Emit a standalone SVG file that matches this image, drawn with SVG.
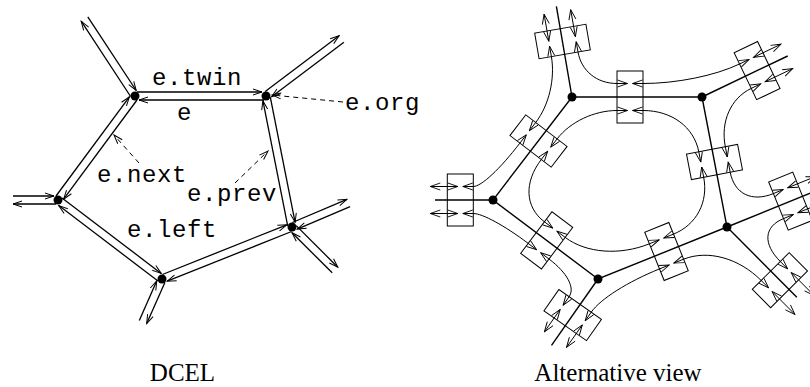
<svg xmlns="http://www.w3.org/2000/svg" width="810" height="387" viewBox="0 0 810 387">
<defs>
<style>
.he{fill:none;stroke:#000;stroke-width:1.3;marker-end:url(#al)}
.ld{fill:none;stroke:#000;stroke-width:1;stroke-dasharray:5 4;marker-end:url(#al)}
.mono{font-family:"Liberation Mono","DejaVu Sans Mono",monospace;font-size:24px;letter-spacing:0.6px;fill:#000}
.cap{font-family:"Liberation Serif","Times New Roman",serif;font-size:25px;fill:#000;text-anchor:middle}
.edge{fill:none;stroke:#000;stroke-width:1.4}
.box{fill:none;stroke:#000;stroke-width:1}
.cv{fill:none;stroke:#000;stroke-width:1;marker-start:url(#ar);marker-end:url(#ar)}
.v{fill:#000}
</style>
<marker id="al" viewBox="-11 -5 12 10" refX="0" refY="0" markerWidth="12" markerHeight="10" markerUnits="userSpaceOnUse" orient="auto-start-reverse">
<path d="M-9,-3 L0,0 L-9,3" fill="none" stroke="#000" stroke-width="1"/>
</marker>
<marker id="ar" viewBox="-12 -5 13 10" refX="0" refY="0" markerWidth="13" markerHeight="10" markerUnits="userSpaceOnUse" orient="auto-start-reverse">
<path d="M-10,-3.5 L0,0 L-10,3.5" fill="none" stroke="#000" stroke-width="0.9"/>
</marker>
</defs>

<!-- DCEL: half-edge pairs -->
<g id="dcel-halfedges">
<path class="he" d="M137,92 L262,92"/>
<path class="he" d="M264,100 L139,100"/>
<path class="he" d="M270.3,97.2 L295.1,222.3"/>
<path class="he" d="M287.7,225.8 L262.9,100.7"/>
<path class="he" d="M291.6,231.5 L167.2,281.2"/>
<path class="he" d="M162.4,274.5 L286.8,224.8"/>
<path class="he" d="M158,281 L58.8,205.6"/>
<path class="he" d="M62,198 L161.2,273.4"/>
<path class="he" d="M56,196 L129.4,96.8"/>
<path class="he" d="M137,100 L63.6,199.2"/>
<path class="he" d="M130.6,96.5 L81.2,21.2"/>
<path class="he" d="M87.8,16.8 L136.2,90.5"/>
<path class="he" d="M265.2,91.6 L339.1,35.8"/>
<path class="he" d="M343.9,42.2 L271.6,96.8"/>
<path class="he" d="M292.3,222.5 L346.9,199.3"/>
<path class="he" d="M350.1,206.7 L297.2,229.1"/>
<path class="he" d="M296.2,225.6 L337.8,267.2"/>
<path class="he" d="M332.2,272.8 L292,232.7"/>
<path class="he" d="M164.9,282.5 L146.7,323.6"/>
<path class="he" d="M139.3,320.4 L156.7,281"/>
<path class="he" d="M56,204 L13,204"/>
<path class="he" d="M13,196 L54,196"/>
</g>

<g id="dcel-leaders">
<path class="ld" d="M343,102 L272,95"/>
<path class="ld" d="M139,163 L114,135"/>
<path class="ld" d="M235,183 L268,151"/>
</g>

<g id="dcel-vertex-a"><circle class="v" cx="135" cy="96" r="4.5"/></g>
<g id="dcel-vertex-b"><circle class="v" cx="266" cy="96" r="4.5"/></g>
<g id="dcel-vertex-c"><circle class="v" cx="292" cy="227" r="4.5"/></g>
<g id="dcel-vertex-d"><circle class="v" cx="162" cy="279" r="4.5"/></g>
<g id="dcel-vertex-e"><circle class="v" cx="58" cy="200" r="4.5"/></g>

<g id="dcel-labels">
<text class="mono" x="152" y="85">e.twin</text>
<text class="mono" x="177" y="120">e</text>
<text class="mono" x="345" y="110">e.org</text>
<text class="mono" x="97" y="182">e.next</text>
<text class="mono" x="187" y="201">e.prev</text>
<text class="mono" x="127" y="237">e.left</text>
<text class="cap" x="182.5" y="381">DCEL</text>
</g>

<!-- Alternative view: edge skeleton -->
<g id="alt-edges">
<path class="edge" d="M572,97 L702,97 L727,227 L598,279 L493,200 Z"/>
<path class="edge" d="M572,97 L556.4,6.4"/>
<path class="edge" d="M702,97 L787.7,56"/>
<path class="edge" d="M727,227 L819.6,189.4"/>
<path class="edge" d="M727,227 L796.8,297.2"/>
<path class="edge" d="M598,279 L551.5,345.3"/>
<path class="edge" d="M493,200 L435,200"/>
</g>

<!-- edge records -->
<g id="box-12"><rect class="box" x="-13" y="-26" width="26" height="52" transform="translate(630,97)"/></g>
<g id="box-23"><rect class="box" x="-13" y="-26" width="26" height="52" transform="translate(714.5,162) rotate(79.12)"/></g>
<g id="box-34"><rect class="box" x="-13" y="-26" width="26" height="52" transform="translate(666.5,251.5) rotate(158.05)"/></g>
<g id="box-45"><rect class="box" x="-13" y="-26" width="26" height="52" transform="translate(546.7,240.4) rotate(-143.04)"/></g>
<g id="box-51"><rect class="box" x="-13" y="-26" width="26" height="52" transform="translate(538.5,141) rotate(-52.51)"/></g>
<g id="box-1"><rect class="box" x="-13" y="-26" width="26" height="52" transform="translate(562.5,41.5) rotate(-99.79)"/></g>
<g id="box-2"><rect class="box" x="-13" y="-26" width="26" height="52" transform="translate(757.1,70.6) rotate(-25.59)"/></g>
<g id="box-3a"><rect class="box" x="-13" y="-26" width="26" height="52" transform="translate(790.5,201.2) rotate(-22.1)"/></g>
<g id="box-3b"><rect class="box" x="-13" y="-26" width="26" height="52" transform="translate(779.9,280.2) rotate(45.16)"/></g>
<g id="box-4"><rect class="box" x="-13" y="-26" width="26" height="52" transform="translate(572.7,315.1) rotate(125.03)"/></g>
<g id="box-5"><rect class="box" x="-13" y="-26" width="26" height="52" transform="translate(460.3,200)"/></g>

<!-- next/prev links between edge records -->
<g id="alt-links">
<path class="cv" d="M576.2,41.7 L578,52 C581.3,70.9 596.8,83.5 617,83.5 L627.5,83.5"/>
<path class="cv" d="M627.5,110.5 L617,110.5 C594.1,110.5 570.2,121.9 557.1,138.9 L550.7,147.2"/>
<path class="cv" d="M529.3,130.8 L535.7,122.5 C549,105.2 555.2,78.9 551.4,56.6 L549.6,46.3"/>
<path class="cv" d="M632.5,83.5 L643,83.5 C676.5,83.5 715.1,75.7 739.5,64 L749,59.5"/>
<path class="cv" d="M760.7,83.9 L751.2,88.4 C730.8,98.2 720.4,121.5 725.3,146.7 L727.3,157"/>
<path class="cv" d="M700.8,162.1 L698.8,151.8 C694,127 671.7,110.5 643,110.5 L632.5,110.5"/>
<path class="cv" d="M728.2,161.9 L730.2,172.2 C734.4,193.9 751.6,202.4 773.4,193.6 L783.1,189.6"/>
<path class="cv" d="M793.3,214.6 L783.5,218.6 C763.9,226.6 762.6,243.7 780.3,261.5 L787.7,268.9"/>
<path class="cv" d="M768.6,287.9 L761.2,280.5 C738.8,258 707.8,249.5 683.6,259.2 L673.9,263.1"/>
<path class="cv" d="M663.8,238 L673.5,234.1 C696.4,224.9 708.5,202.2 703.7,177.3 L701.7,167"/>
<path class="cv" d="M669.2,265 L659.5,268.9 C627.8,281.7 600.4,299 591.2,312.2 L585.2,320.8"/>
<path class="cv" d="M563.1,305.3 L569.1,296.7 C575.3,287.8 567.3,272.8 549,259 L540.6,252.7"/>
<path class="cv" d="M556.8,231.1 L565.2,237.4 C586.1,253.2 619.8,255.7 649.4,243.8 L659.1,239.9"/>
<path class="cv" d="M536.6,249.7 L528.2,243.4 C504.4,225.5 482.4,213.5 473.3,213.5 L462.8,213.5"/>
<path class="cv" d="M462.8,186.5 L473.3,186.5 C481.3,186.5 499.9,169.1 519.9,143.1 L526.3,134.8"/>
<path class="cv" d="M547.7,151.2 L541.3,159.5 C523.8,182.3 525,207.2 544.4,221.8 L552.8,228.1"/>
<!-- links leaving towards the unbounded ends -->
<path class="cv" d="M548.8,41.3 L544.1,14.2"/>
<path class="cv" d="M575.4,36.7 L570.7,9.7"/>
<path class="cv" d="M753.5,57.3 L781,44.2"/>
<path class="cv" d="M765.2,81.7 L792.7,68.6"/>
<path class="cv" d="M787.7,187.8 L816,176.3"/>
<path class="cv" d="M797.9,212.8 L826.2,201.3"/>
<path class="cv" d="M791.2,272.5 L814.1,295.5"/>
<path class="cv" d="M772.1,291.5 L795,314.5"/>
<path class="cv" d="M582.3,324.9 L566.5,347.4"/>
<path class="cv" d="M560.2,309.4 L544.4,331.9"/>
<path class="cv" d="M457.8,213.5 L430.3,213.5"/>
<path class="cv" d="M457.8,186.5 L430.3,186.5"/>
</g>

<g id="alt-vertex-1"><circle class="v" cx="572" cy="97" r="4.5"/></g>
<g id="alt-vertex-2"><circle class="v" cx="702" cy="97" r="4.5"/></g>
<g id="alt-vertex-3"><circle class="v" cx="727" cy="227" r="4.5"/></g>
<g id="alt-vertex-4"><circle class="v" cx="598" cy="279" r="4.5"/></g>
<g id="alt-vertex-5"><circle class="v" cx="493" cy="200" r="4.5"/></g>

<text class="cap" x="618" y="381">Alternative view</text>
</svg>
